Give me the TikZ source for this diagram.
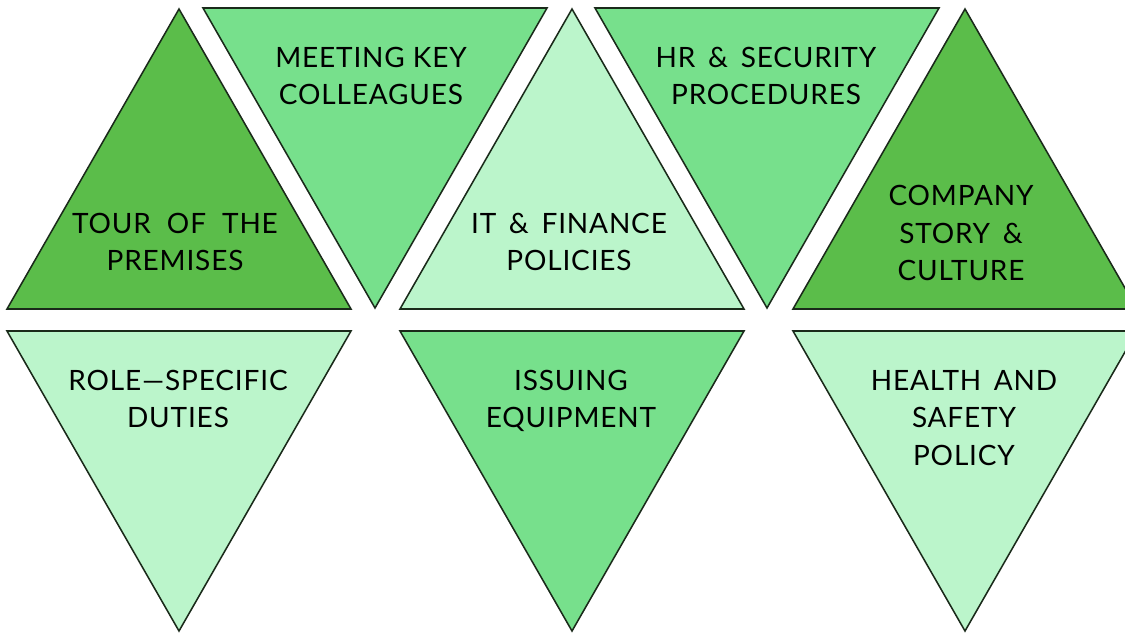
\documentclass[tikz,border=0pt]{standalone}
\usepackage{fontspec}
\setmainfont{Lato}[LetterSpace=3]
\definecolor{gdark}{HTML}{5BBD4A}
\definecolor{gmid}{HTML}{77E08C}
\definecolor{glight}{HTML}{BBF5CB}
\definecolor{inkc}{HTML}{1A2A1A}
\tikzset{
  tri/.style={draw=inkc,line width=1.15pt,line join=miter},
  lab/.style={align=center,text=black,font=\fontsize{21}{28}\selectfont,inner sep=0pt},
}
\begin{document}
\begin{tikzpicture}[x=0.75pt,y=-0.75pt]
\useasboundingbox (0,0) rectangle (1125,633);
\clip (0,0) rectangle (1125,633);
\fill[white] (0,0) rectangle (1125,633);
\path[tri,fill=gdark] (179,9) -- (351,309) -- (7,309) -- cycle;
\path[tri,fill=gmid] (203,8) -- (547,8) -- (375,308) -- cycle;
\path[tri,fill=glight] (572,9) -- (744,309) -- (400,309) -- cycle;
\path[tri,fill=gmid] (595,8) -- (939,8) -- (767,308) -- cycle;
\path[tri,fill=gdark] (965,9) -- (1137,309) -- (793,309) -- cycle;
\path[tri,fill=glight] (7,331) -- (351,331) -- (179,631) -- cycle;
\path[tri,fill=gmid] (400,331) -- (744,331) -- (572,631) -- cycle;
\path[tri,fill=glight] (793,331) -- (1137,331) -- (965,631) -- cycle;
\node[lab] (tour) at (175,242) {TOUR\ \ OF\ \ THE\\PREMISES};
\node[lab] (meet) at (371,76) {MEETING\ KEY\\COLLEAGUES};
\node[lab] (it) at (569,242) {IT\ \,\&\ \,FINANCE\\POLICIES};
\node[lab] (hr) at (766,76) {HR\ \,\&\ \,SECURITY\\PROCEDURES};
\node[lab] (comp) at (961,233) {COMPANY\\STORY\ \,\&\\CULTURE};
\node[lab] (role) at (178,399) {ROLE—SPECIFIC\\DUTIES};
\node[lab] (issue) at (571,401) {ISSUING\\EQUIPMENT};
\node[lab] (health) at (964,418) {HEALTH\ \,AND\\SAFETY\\POLICY};
\end{tikzpicture}
\end{document}
